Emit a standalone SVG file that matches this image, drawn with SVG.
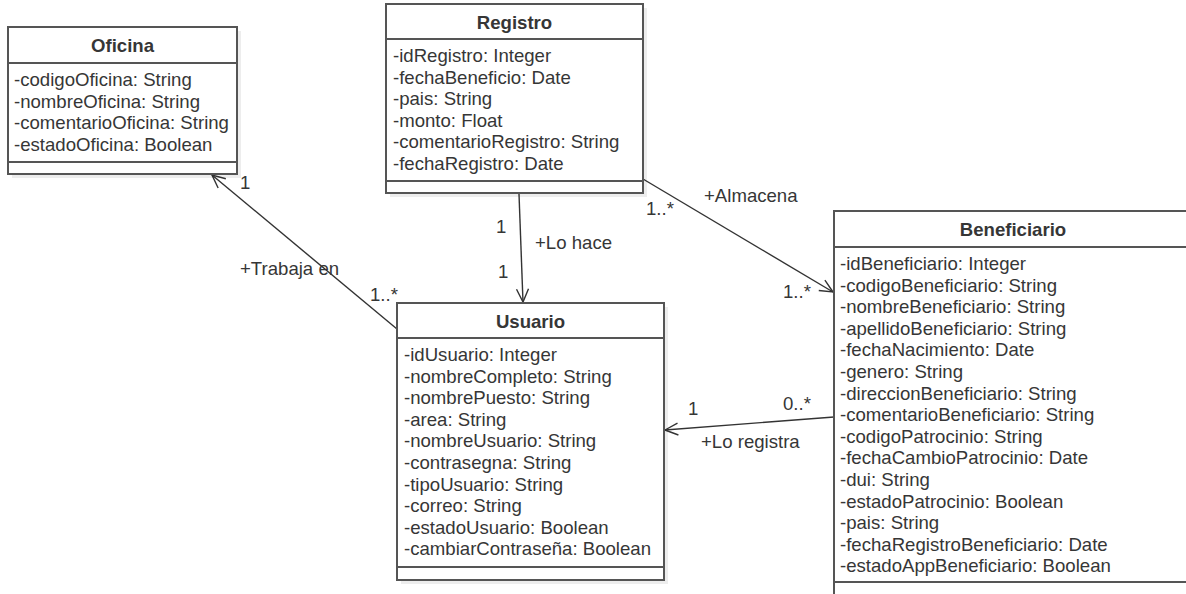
<svg xmlns="http://www.w3.org/2000/svg" width="1186" height="594" viewBox="0 0 1186 594">
<defs>
<style>
.box{fill:#fff;stroke:#555;stroke-width:2}
.shadow{fill:#000;opacity:0.07}
.sep{stroke:#555;stroke-width:2}
.t{font-family:"Liberation Sans",Arial,sans-serif;font-size:18.6px;fill:#363636}
.title{font-weight:bold;text-anchor:middle}
.conn{stroke:#333;stroke-width:1.4;fill:none}
</style>
<marker id="open" markerUnits="userSpaceOnUse" markerWidth="16" markerHeight="16" refX="13" refY="6" orient="auto" overflow="visible">
<path d="M0,0 L13,6 L0,12" fill="none" stroke="#333" stroke-width="1.4"/>
</marker>
</defs>
<rect width="1186" height="594" fill="#fff"/>

<g id="connectors">
<line class="conn" x1="397" y1="329" x2="212" y2="175" marker-end="url(#open)"/>
<line class="conn" x1="519" y1="194" x2="523" y2="302" marker-end="url(#open)"/>
<line class="conn" x1="643" y1="179" x2="833" y2="292" marker-end="url(#open)"/>
<line class="conn" x1="834" y1="417" x2="665" y2="430" marker-end="url(#open)"/>
<text class="t" x="240" y="189">1</text>
<text class="t" x="240" y="275">+Trabaja en</text>
<text class="t" x="370" y="301">1..*</text>
<text class="t" x="496" y="233">1</text>
<text class="t" x="535" y="249">+Lo hace</text>
<text class="t" x="498" y="278">1</text>
<text class="t" x="646" y="215">1..*</text>
<text class="t" x="704" y="202">+Almacena</text>
<text class="t" x="783" y="298">1..*</text>
<text class="t" x="688" y="415">1</text>
<text class="t" x="783" y="410">0..*</text>
<text class="t" x="701" y="448">+Lo registra</text>
</g>

<g id="Oficina">
<rect class="shadow" x="12" y="31" width="229" height="147"/>
<rect class="box" x="8" y="27" width="229" height="147"/>
<line class="sep" x1="8" y1="63" x2="237" y2="63"/>
<line class="sep" x1="8" y1="162" x2="237" y2="162"/>
<text class="t title" x="122.5" y="51.5">Oficina</text>
<text class="t" x="14" y="86">-codigoOficina: String</text>
<text class="t" x="14" y="107.6">-nombreOficina: String</text>
<text class="t" x="14" y="129.2">-comentarioOficina: String</text>
<text class="t" x="14" y="150.8">-estadoOficina: Boolean</text>
</g>

<g id="Registro">
<rect class="shadow" x="390" y="8" width="257" height="189"/>
<rect class="box" x="386" y="4" width="257" height="189"/>
<line class="sep" x1="386" y1="39" x2="643" y2="39"/>
<line class="sep" x1="386" y1="181" x2="643" y2="181"/>
<text class="t title" x="514.5" y="28.5">Registro</text>
<text class="t" x="393" y="62">-idRegistro: Integer</text>
<text class="t" x="393" y="83.6">-fechaBeneficio: Date</text>
<text class="t" x="393" y="105.2">-pais: String</text>
<text class="t" x="393" y="126.8">-monto: Float</text>
<text class="t" x="393" y="148.4">-comentarioRegistro: String</text>
<text class="t" x="393" y="170">-fechaRegistro: Date</text>
</g>

<g id="Usuario">
<rect class="shadow" x="401" y="307" width="267" height="277"/>
<rect class="box" x="397" y="303" width="267" height="277"/>
<line class="sep" x1="397" y1="338" x2="664" y2="338"/>
<line class="sep" x1="397" y1="567" x2="664" y2="567"/>
<text class="t title" x="530.5" y="327.5">Usuario</text>
<text class="t" x="404" y="361">-idUsuario: Integer</text>
<text class="t" x="404" y="382.6">-nombreCompleto: String</text>
<text class="t" x="404" y="404.2">-nombrePuesto: String</text>
<text class="t" x="404" y="425.8">-area: String</text>
<text class="t" x="404" y="447.4">-nombreUsuario: String</text>
<text class="t" x="404" y="469">-contrasegna: String</text>
<text class="t" x="404" y="490.6">-tipoUsuario: String</text>
<text class="t" x="404" y="512.2">-correo: String</text>
<text class="t" x="404" y="533.8">-estadoUsuario: Boolean</text>
<text class="t" x="404" y="555.4">-cambiarContraseña: Boolean</text>
</g>

<g id="Beneficiario">
<rect class="shadow" x="838" y="215" width="358" height="390"/>
<rect class="box" x="834" y="211" width="358" height="390"/>
<line class="sep" x1="834" y1="247" x2="1192" y2="247"/>
<line class="sep" x1="834" y1="582" x2="1192" y2="582"/>
<text class="t title" x="1013" y="235.5">Beneficiario</text>
<text class="t" x="840" y="270">-idBeneficiario: Integer</text>
<text class="t" x="840" y="291.6">-codigoBeneficiario: String</text>
<text class="t" x="840" y="313.2">-nombreBeneficiario: String</text>
<text class="t" x="840" y="334.8">-apellidoBeneficiario: String</text>
<text class="t" x="840" y="356.4">-fechaNacimiento: Date</text>
<text class="t" x="840" y="378">-genero: String</text>
<text class="t" x="840" y="399.6">-direccionBeneficiario: String</text>
<text class="t" x="840" y="421.2">-comentarioBeneficiario: String</text>
<text class="t" x="840" y="442.8">-codigoPatrocinio: String</text>
<text class="t" x="840" y="464.4">-fechaCambioPatrocinio: Date</text>
<text class="t" x="840" y="486">-dui: String</text>
<text class="t" x="840" y="507.6">-estadoPatrocinio: Boolean</text>
<text class="t" x="840" y="529.2">-pais: String</text>
<text class="t" x="840" y="550.8">-fechaRegistroBeneficiario: Date</text>
<text class="t" x="840" y="572.4">-estadoAppBeneficiario: Boolean</text>
</g>
</svg>
